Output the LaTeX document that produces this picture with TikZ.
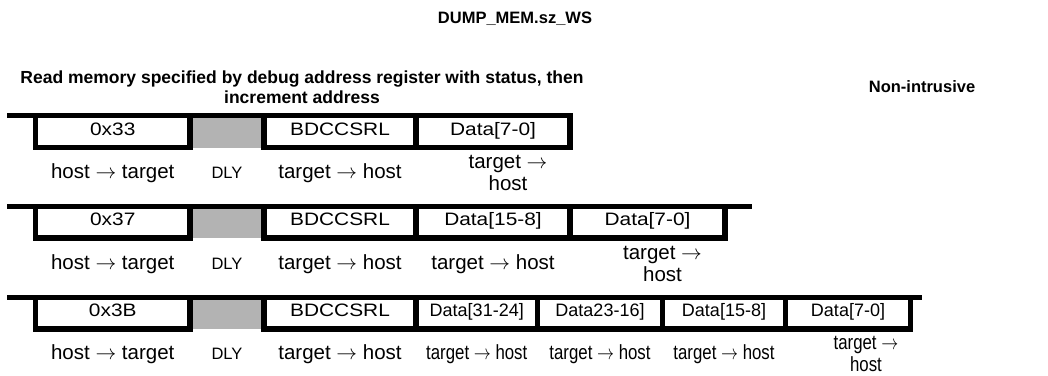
\documentclass[tikz,border=0pt]{standalone}
\usepackage{fontspec}
\setmainfont{Liberation Sans}
\usetikzlibrary{positioning}
\definecolor{dlygray}{HTML}{B3B3B3}
\newcommand\toarr{\ensuremath{\rightarrow}}
\newcommand\wide[1]{\scalebox{1.16}[1]{#1}}
\newcommand\narrow[1]{\scalebox{0.82}[1]{#1}}

\begin{document}
\begin{tikzpicture}[x=1pt, y=-1pt,
    cell/.style={minimum height=32pt, inner sep=0pt, outer sep=0pt, text height=11.5pt, text depth=4pt, font=\fontsize{18}{20}\selectfont},
    dly/.style={cell, fill=dlygray},
    lab/.style={align=center, inner sep=0pt, font=\fontsize{20.5}{21.5}\selectfont},
    dlab/.style={inner sep=0pt, font=\fontsize{16.5}{20}\selectfont},
    edge/.style={line width=5.5pt},
    bar/.style={line width=5pt},
    head/.style={align=center, inner sep=0pt, font=\bfseries\fontsize{16.5}{20}\selectfont}
  ]
  \useasboundingbox (0,0) rectangle (1048,375);

  \node[head] (title) at (515,19) {DUMP\_MEM.sz\_WS};
  \node[head, font=\bfseries\fontsize{17.5}{20}\selectfont] (desc) at (302,87) {Read memory specified by debug address register with status, then\\ increment address};
  \node[head] (mode) at (922,87) {Non-intrusive};

  % row 1
  \node[cell, minimum width=154.5pt, anchor=north west] (a1) at (35.5,115.5) {\wide{0x33}};
  \node[dly, minimum width=74pt, right=0pt of a1] (a2) {};
  \node[cell, minimum width=152pt, right=0pt of a2] (a3) {\wide{BDCCSRL}};
  \node[cell, minimum width=154pt, right=0pt of a3] (a4) {\wide{Data[7-0]}};
  \coordinate (s1) at (7,115.5);
  \coordinate (e1) at (573,115.5);
  \draw[bar] (s1) -- (e1);
  \foreach \c in {a1,a3,a4}
    \draw[edge] (\c.north west) -- (\c.south west) -- (\c.south east) -- (\c.north east);
  \node[lab] (la1) at ([yshift=-25.5pt]a1.south) {host \toarr{} target};
  \node[dlab] (la2) at ([yshift=-25.5pt]a2.south) {DLY};
  \node[lab] (la3) at ([yshift=-25.5pt]a3.south) {target \toarr{} host};
  \node[lab] (la4) at ([xshift=15pt,yshift=-25.5pt]a4.south) {target \toarr\\ host};

  % row 2
  \node[cell, minimum width=154.5pt, anchor=north west] (b1) at (35.5,206) {\wide{0x37}};
  \node[dly, minimum width=74pt, right=0pt of b1] (b2) {};
  \node[cell, minimum width=152pt, right=0pt of b2] (b3) {\wide{BDCCSRL}};
  \node[cell, minimum width=154pt, right=0pt of b3] (b4) {\wide{Data[15-8]}};
  \node[cell, minimum width=155pt, right=0pt of b4] (b5) {\wide{Data[7-0]}};
  \coordinate (s2) at (7,206);
  \coordinate (e2) at (752,206);
  \draw[bar] (s2) -- (e2);
  \foreach \c in {b1,b3,b4,b5}
    \draw[edge] (\c.north west) -- (\c.south west) -- (\c.south east) -- (\c.north east);
  \node[lab] (lb1) at ([yshift=-26pt]b1.south) {host \toarr{} target};
  \node[dlab] (lb2) at ([yshift=-26pt]b2.south) {DLY};
  \node[lab] (lb3) at ([yshift=-26pt]b3.south) {target \toarr{} host};
  \node[lab] (lb4) at ([yshift=-26pt]b4.south) {target \toarr{} host};
  \node[lab] (lb5) at ([xshift=15pt,yshift=-26pt]b5.south) {target \toarr\\ host};

  % row 3
  \node[cell, minimum width=154.5pt, anchor=north west] (c1) at (35.5,297) {\wide{0x3B}};
  \node[dly, minimum width=74pt, right=0pt of c1] (c2) {};
  \node[cell, minimum width=152pt, right=0pt of c2] (c3) {\wide{BDCCSRL}};
  \node[cell, minimum width=121.5pt, right=0pt of c3] (c4) {Data[31-24]};
  \node[cell, minimum width=125pt, right=0pt of c4] (c5) {Data23-16]};
  \node[cell, minimum width=123pt, right=0pt of c5] (c6) {Data[15-8]};
  \node[cell, minimum width=125pt, right=0pt of c6] (c7) {Data[7-0]};
  \coordinate (s3) at (7,297);
  \coordinate (e3) at (922,297);
  \draw[bar] (s3) -- (e3);
  \foreach \c in {c1,c3,c4,c5,c6,c7}
    \draw[edge] (\c.north west) -- (\c.south west) -- (\c.south east) -- (\c.north east);
  \node[lab] (lc1) at ([yshift=-25pt]c1.south) {host \toarr{} target};
  \node[dlab] (lc2) at ([yshift=-25pt]c2.south) {DLY};
  \node[lab] (lc3) at ([yshift=-25pt]c3.south) {target \toarr{} host};
  \node[lab] (lc4) at ([yshift=-25pt]c4.south) {\narrow{target \toarr{} host}};
  \node[lab] (lc5) at ([yshift=-25pt]c5.south) {\narrow{target \toarr{} host}};
  \node[lab] (lc6) at ([yshift=-25pt]c6.south) {\narrow{target \toarr{} host}};
  \node[lab] (lc7) at ([xshift=18pt,yshift=-25pt]c7.south) {\narrow{target \toarr}\\ \narrow{host}};
\end{tikzpicture}
\end{document}
